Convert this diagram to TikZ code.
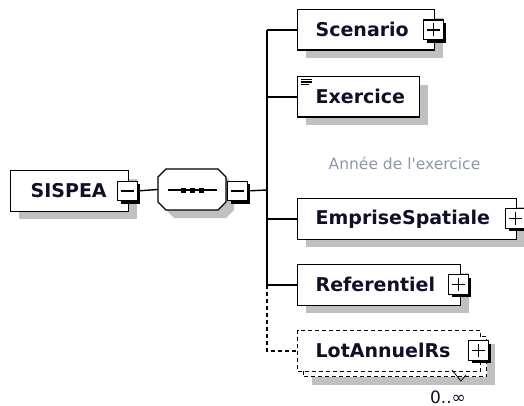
\documentclass[tikz,border=0pt]{standalone}
\usepackage{fontspec}
\setmainfont{DejaVu Sans}
\usetikzlibrary{shadows}
\definecolor{txt}{RGB}{15,15,40}
\definecolor{notec}{RGB}{140,150,170}
\definecolor{shd}{RGB}{192,192,192}
\begin{document}
\begin{tikzpicture}[x=1pt,y=-1pt,
  elem/.style={draw=black, line width=1.3pt, fill=white, minimum height=40.5pt,
    anchor=north west, inner xsep=18pt, inner ysep=0pt, align=left, text=txt,
    font=\bfseries\fontsize{19}{22}\selectfont},
  shadowed/.style={drop shadow={shadow xshift=8pt, shadow yshift=-8pt, fill=shd, opacity=1}},
  dashedbox/.style={dash pattern=on 4pt off 3pt, line width=1.2pt},
  pmbox/.style={draw=black, line width=1.3pt, fill=white, minimum size=19.5pt, inner sep=0pt,
    anchor=north west, drop shadow={shadow xshift=3pt, shadow yshift=-3pt, fill=black, opacity=1}},
  minusbox/.style={pmbox, path picture={
    \draw[line width=1.3pt] ([xshift=-6.5pt]path picture bounding box.center) -- ([xshift=6.5pt]path picture bounding box.center);}},
  plusbox/.style={pmbox, path picture={
    \draw[line width=1.3pt] ([xshift=-6.5pt]path picture bounding box.center) -- ([xshift=6.5pt]path picture bounding box.center);
    \draw[line width=1.3pt] ([yshift=-6.5pt]path picture bounding box.center) -- ([yshift=6.5pt]path picture bounding box.center);}},
  conn/.style={line width=1.4pt, black},
  dconn/.style={conn, dash pattern=on 4pt off 3pt},
  notetext/.style={text=notec, font=\fontsize{15.5}{18}\selectfont, inner sep=0pt},
  cardtext/.style={text=txt, font=\fontsize{17}{20}\selectfont, inner sep=0pt, anchor=base}
]
\useasboundingbox (0,0) rectangle (524,406);

% root element
\node[elem, shadowed, text width=78pt, inner xsep=20pt] (sispea) at (10,170) {SISPEA};
\node[minusbox] (sm) at (117,180.5) {};

% sequence compositor
\path[draw, line width=1.3pt, fill=white, shadowed]
  (166,169) -- (218,169) -- (226,177) -- (226,202) -- (218,210) -- (166,210) -- (158,202) -- (158,177) -- cycle;
\node[inner sep=0pt, minimum width=68pt, minimum height=41pt] (seq) at (192,189.5) {};
\draw[line width=1.3pt] (168,190) -- (217,190);
\fill (180.5,187.5) rectangle +(5.5,5);
\fill (189.5,187.5) rectangle +(5.5,5);
\fill (198.5,187.5) rectangle +(5.5,5);
\node[minusbox] (qm) at (227,180.5) {};
\coordinate (tr) at (267,190);

% children
\node[elem, shadowed, text width=101pt] (scen) at (297,9) {Scenario};
\node[plusbox] (scp) at (423,19.5) {};

\node[elem, shadowed, text width=86pt] (exer) at (297,76) {Exercice};
\draw[line width=1.2pt] ([shift={(4,3.5)}]exer.north west) -- ++(11,0);
\draw[line width=1.2pt] ([shift={(4,6)}]exer.north west) -- ++(11,0);
\draw[line width=1.2pt] ([shift={(4,8.5)}]exer.north west) -- ++(8,0);

\node[notetext] (ann) at (404.5,163) {Année de l\textquotesingle exercice};

\node[elem, shadowed, text width=183pt] (emp) at (297,198) {EmpriseSpatiale};
\node[plusbox] (emq) at (505,208) {};

\node[elem, shadowed, text width=127pt] (ref) at (297,264) {Referentiel};
\node[plusbox] (rfp) at (448,274) {};

\node[elem, shadowed, dashedbox, text width=147pt] (lotb) at (303,335.5) {};
\node[elem, dashedbox, text width=147pt] (lot) at (297,330) {LotAnnuelRs};
\node[plusbox] (ltp) at (468,340) {};
\draw[line width=0.8pt] (452,370) -- (461,381) -- (466,375);
\node[cardtext] (card) at (448,403) {0..∞};

% connectors
\draw[conn] (sm.east) -- (seq.west);
\draw[conn] (qm.east) -- (tr);
\draw[conn] (scen.west -| tr) -- (ref.west -| tr);
\draw[conn] (scen.west -| tr) -- (scen.west);
\draw[conn] (exer.west -| tr) -- (exer.west);
\draw[conn] (emp.west -| tr) -- (emp.west);
\draw[conn] (ref.west -| tr) -- (ref.west);
\draw[dconn] (ref.west -| tr) -- (lot.west -| tr) -- (lot.west);
\end{tikzpicture}
\end{document}
